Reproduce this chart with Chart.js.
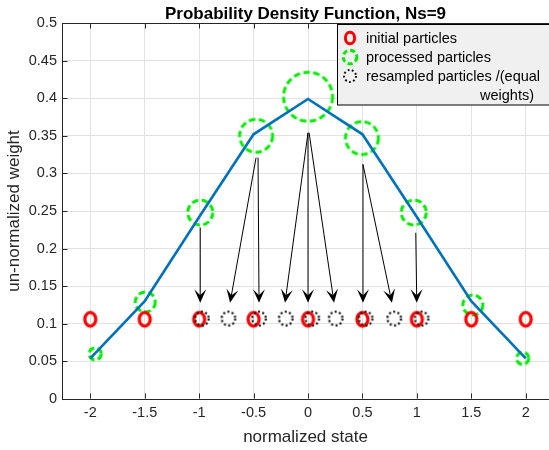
<!DOCTYPE html>
<html>
<head>
<meta charset="utf-8">
<title>Probability Density Function, Ns=9</title>
<script src="https://cdn.jsdelivr.net/npm/chart.js@4/dist/chart.umd.min.js"></script>
<style>
  html, body { margin: 0; padding: 0; background: #fff; overflow: hidden; }
</style>
</head>
<body>
<canvas id="pdfChart" width="549" height="450"></canvas>
<script>
// pdf curve (blue line)
const xState = [-2, -1.5, -1, -0.5, 0, 0.5, 1, 1.5, 2];
const pdfValues = [0.054, 0.13, 0.242, 0.352, 0.399, 0.352, 0.242, 0.13, 0.054];

// initial particles (red O)
const initialX = [-2, -1.5, -1, -0.5, 0, 0.5, 1, 1.5, 2];
const initialY = [0.106, 0.106, 0.106, 0.106, 0.106, 0.106, 0.106, 0.106, 0.106];

// processed particles (green dashed circles)
const processedX = [-1.955, -1.495, -0.99, -0.477, 0, 0.495, 0.972, 1.514, 1.972];
const processedY = [0.06, 0.129, 0.248, 0.35, 0.402, 0.347, 0.248, 0.125, 0.054];

// resampled particles (black dotted circles)
const resampledX = [-0.975, -0.731, -0.45, -0.205, 0.039, 0.254, 0.529, 0.792, 1.043];
const resampledY = [0.107, 0.107, 0.107, 0.107, 0.107, 0.107, 0.107, 0.107, 0.107];

// resampling arrows
const arrowFromX = [-0.99, -0.477, -0.459, 0, 0, 0.01, 0.505, 0.505, 0.99];
const arrowFromY = [0.228, 0.321, 0.321, 0.354, 0.354, 0.354, 0.312, 0.312, 0.221];
const arrowToX = [-0.99, -0.716, -0.45, -0.211, 0, 0.239, 0.505, 0.771, 0.999];
const arrowToY = [0.128, 0.128, 0.128, 0.128, 0.128, 0.128, 0.128, 0.128, 0.128];

const xTicks = [-2, -1.5, -1, -0.5, 0, 0.5, 1, 1.5, 2];
const xTickLabels = ['-2', '-1.5', '-1', '-0.5', '0', '0.5', '1', '1.5', '2'];
const yTicks = [0, 0.05, 0.1, 0.15, 0.2, 0.25, 0.3, 0.35, 0.4, 0.45, 0.5];
const yTickLabels = ['0', '0.05', '0.1', '0.15', '0.2', '0.25', '0.3', '0.35', '0.4', '0.45', '0.5'];

const legendLines = [['initial particles'], ['processed particles'], ['resampled particles /(equal', 'weights)']];

// marker radius of the processed circles (px)
const processedRadius = [6, 10, 12.5, 16.5, 24.5, 16.5, 12.5, 10, 6];

const family = '"Liberation Sans", Arial, Helvetica, sans-serif';
const axisColor = '#262626';
const GREEN = '#00ee00';

function ringImage(rx, ry, color, width, dash) {
    const pad = Math.ceil(width) + 1;
    const c = document.createElement('canvas');
    c.width = Math.ceil(2 * rx + 2 * pad);
    c.height = Math.ceil(2 * ry + 2 * pad);
    const g = c.getContext('2d');
    g.strokeStyle = color;
    g.lineWidth = width;
    g.setLineDash(dash);
    g.beginPath();
    g.ellipse(c.width / 2, c.height / 2, rx, ry, 0, 0, Math.PI * 2);
    g.stroke();
    return c;
}

const redO = ringImage(5.5, 6.8, '#ff0000', 3.2, []);
const dotRing = ringImage(6.8, 6.8, '#111', 2.2, [2, 2.4]);
const greenRings = processedRadius.map(r => ringImage(r, r, GREEN, 3, [6.5, 3.5]));

function pairs(xs, ys) {
    return xs.map((x, i) => ({ x: x, y: ys[i] }));
}

function drawArrow(ctx, x0, y0, x1, y1) {
    const ang = Math.atan2(y1 - y0, x1 - x0);
    const L = 13.5, W = 6, notch = 7.5;
    ctx.beginPath();
    ctx.moveTo(x0, y0);
    ctx.lineTo(x1 - notch * Math.cos(ang), y1 - notch * Math.sin(ang));
    ctx.stroke();
    ctx.save();
    ctx.translate(x1, y1);
    ctx.rotate(ang);
    ctx.beginPath();
    ctx.moveTo(0, 0);
    ctx.lineTo(-L, -W);
    ctx.lineTo(-notch, 0);
    ctx.lineTo(-L, W);
    ctx.closePath();
    ctx.fill();
    ctx.restore();
}

const overlay = {
    id: 'overlay',
    afterDatasetsDraw(chart) {
        const ctx = chart.ctx;
        const a = chart.chartArea;
        const x = chart.scales.x, y = chart.scales.y;
        ctx.save();

        // top box edge and inward tick marks
        ctx.strokeStyle = axisColor;
        ctx.lineWidth = 1;
        const top = Math.round(a.top) + 0.5, bot = Math.round(a.bottom) - 0.5;
        const left = Math.round(a.left) + 0.5;
        ctx.beginPath();
        ctx.moveTo(left, top); ctx.lineTo(a.right + 5, top);
        xTicks.forEach(v => {
            const px = Math.round(x.getPixelForValue(v)) + 0.5;
            ctx.moveTo(px, bot); ctx.lineTo(px, bot - 5);
            ctx.moveTo(px, top); ctx.lineTo(px, top + 5);
        });
        yTicks.forEach(v => {
            const py = Math.round(y.getPixelForValue(v)) + 0.5;
            ctx.moveTo(left, py); ctx.lineTo(left + 5, py);
        });
        ctx.stroke();

        // resampling arrows
        ctx.strokeStyle = '#000';
        ctx.fillStyle = '#000';
        ctx.lineWidth = 1;
        arrowFromX.forEach((v, i) => {
            drawArrow(ctx, x.getPixelForValue(v), y.getPixelForValue(arrowFromY[i]),
                x.getPixelForValue(arrowToX[i]), y.getPixelForValue(arrowToY[i]));
        });

        // legend box (runs past the right edge like the original)
        const bx = 337.5, by = 24.5, bw = 220, bh = 80.5;
        ctx.fillStyle = '#f0f0f0';
        ctx.fillRect(bx, by, bw, bh);
        ctx.strokeStyle = '#000';
        ctx.strokeRect(bx, by, bw, bh);
        const icons = [ringImage(4.6, 5.8, '#ff0000', 3, []),
            ringImage(6.8, 6.8, GREEN, 3, [5, 3]),
            ringImage(6, 6, '#111', 2, [1.8, 2.4])];
        const rowY = [38, 57, 76];
        ctx.font = '14.5px ' + family;
        ctx.fillStyle = '#000';
        ctx.textBaseline = 'middle';
        ctx.textAlign = 'left';
        legendLines.forEach((lines, i) => {
            const ic = icons[i];
            ctx.drawImage(ic, Math.round(349.5 - ic.width / 2), Math.round(rowY[i] - ic.height / 2));
            ctx.fillText(lines[0], 366, rowY[i] + 1);
            if (lines[1]) ctx.fillText(lines[1], 480, rowY[i] + 20);
        });
        ctx.restore();
    }
};

new Chart(document.getElementById('pdfChart'), {
    type: 'scatter',
    data: {
        datasets: [
            {
                label: 'pdf',
                data: pairs(xState, pdfValues),
                showLine: true,
                borderColor: '#0072BD',
                borderWidth: 2.6,
                pointRadius: 0,
                fill: false,
                order: 0
            },
            {
                label: 'resampled particles /(equal weights)',
                data: pairs(resampledX, resampledY),
                pointStyle: dotRing,
                pointRadius: 5,
                order: 1
            },
            {
                label: 'initial particles',
                data: pairs(initialX, initialY),
                pointStyle: redO,
                pointRadius: 5,
                order: 2
            },
            {
                label: 'processed particles',
                data: pairs(processedX, processedY),
                pointStyle: ctx => greenRings[ctx.dataIndex],
                pointRadius: 5,
                order: 3
            }
        ]
    },
    options: {
        responsive: false,
        animation: false,
        events: [],
        layout: { padding: 0, autoPadding: false },
        plugins: {
            legend: { display: false },
            tooltip: { enabled: false },
            title: {
                display: true,
                fullSize: false,
                text: 'Probability Density Function, Ns=9',
                color: '#000',
                font: { family: family, size: 17, weight: 'bold', lineHeight: 1 },
                padding: { top: 6, bottom: 0 }
            }
        },
        scales: {
            x: {
                type: 'linear',
                min: -2.26,
                max: 2.214,
                afterBuildTicks: s => { s.ticks = xTicks.map(v => ({ value: v })); },
                afterFit: s => { s.height = 51; s.paddingLeft = 0; s.paddingRight = 0; },
                ticks: {
                    callback: (v, i) => xTickLabels[i],
                    font: { family: family, size: 14.5 },
                    color: axisColor,
                    padding: 5,
                    maxRotation: 0,
                    autoSkip: false
                },
                grid: { color: '#e2e2e2', drawTicks: false },
                border: { color: axisColor, width: 1 },
                title: {
                    display: true,
                    text: 'normalized state',
                    color: axisColor,
                    font: { family: family, size: 17 },
                    padding: { top: 0, bottom: 2.5 }
                }
            },
            y: {
                type: 'linear',
                min: 0,
                max: 0.5,
                afterBuildTicks: s => { s.ticks = yTicks.map(v => ({ value: v })); },
                afterFit: s => { s.width = 62; s.paddingTop = 0; s.paddingBottom = 0; },
                ticks: {
                    callback: (v, i) => yTickLabels[i],
                    font: { family: family, size: 14.5 },
                    color: axisColor,
                    padding: 5,
                    autoSkip: false
                },
                grid: { color: '#e2e2e2', drawTicks: false },
                border: { color: axisColor, width: 1 },
                title: {
                    display: true,
                    text: 'un-normalized weight',
                    color: axisColor,
                    font: { family: family, size: 17 },
                    padding: { top: 4, bottom: 0 }
                }
            }
        }
    },
    plugins: [overlay]
});
</script>
</body>
</html>
